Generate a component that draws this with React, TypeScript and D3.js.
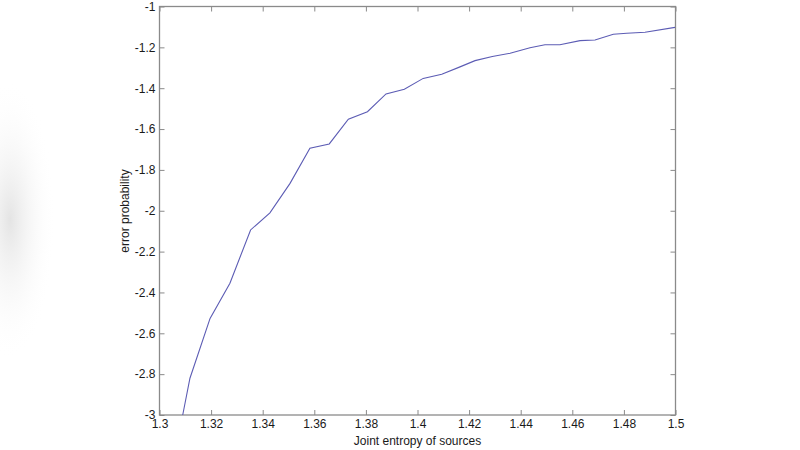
import * as d3 from "d3";
import { useEffect, useRef } from "react";

// values
const entropy = [
  1.309, 1.3118, 1.3196, 1.3273, 1.3353, 1.3428, 1.3506, 1.3583, 1.3658, 1.3732,
  1.3806, 1.3878, 1.3949, 1.4022, 1.4094, 1.416, 1.4223, 1.429, 1.4359, 1.4436,
  1.4494, 1.4552, 1.463, 1.4688, 1.4759, 1.4811, 1.4882, 1.4998,
];
const errorProb = [
  -3.0, -2.82, -2.527, -2.355, -2.094, -2.01, -1.866, -1.694, -1.673, -1.552,
  -1.515, -1.428, -1.405, -1.352, -1.332, -1.298, -1.265, -1.245, -1.229, -1.202,
  -1.187, -1.187, -1.167, -1.164, -1.136, -1.131, -1.126, -1.102,
];
const xTicks = [1.3, 1.32, 1.34, 1.36, 1.38, 1.4, 1.42, 1.44, 1.46, 1.48, 1.5];
const yTicks = [-3, -2.8, -2.6, -2.4, -2.2, -2, -1.8, -1.6, -1.4, -1.2, -1];
const xLabel = "Joint entropy of sources";
const yLabel = "error probability";

const width = 800;
const height = 450;
const left = 159.5;
const right = 675.5;
const top = 6.5;
const bottom = 415;

const App = () => {
  const svgRef = useRef<SVGSVGElement | null>(null);

  useEffect(() => {
    const svg = d3.select(svgRef.current);
    svg.selectAll("*").remove();

    const xScale = d3.scaleLinear().domain([1.3, 1.5]).range([left, right]);
    const yScale = d3.scaleLinear().domain([-3, -1]).range([bottom, top]);
    const fmt = (d: d3.NumberValue) => String(+(+d).toFixed(2));

    // faint shading at the left edge of the picture
    const defs = svg.append("defs");
    const grad = defs.append("radialGradient").attr("id", "shade");
    grad.append("stop").attr("offset", "0%").attr("stop-color", "#e4e4e4");
    grad.append("stop").attr("offset", "100%").attr("stop-color", "#ffffff").attr("stop-opacity", 0);
    svg.append("ellipse")
      .attr("cx", 10).attr("cy", 220).attr("rx", 45).attr("ry", 140)
      .attr("fill", "url(#shade)");

    svg.append("rect")
      .attr("x", left).attr("y", top)
      .attr("width", right - left).attr("height", bottom - top)
      .attr("fill", "#fff");

    const styleAxis = (g: d3.Selection<SVGGElement, unknown, null, undefined>) => {
      g.select(".domain").remove();
      g.selectAll(".tick line").attr("stroke", "#8a8a8a");
      g.selectAll("text")
        .attr("fill", "#1a1a1a")
        .attr("font-family", "Liberation Sans, Arial, sans-serif")
        .attr("font-size", 12);
    };

    svg.append("g")
      .attr("transform", `translate(0,${bottom})`)
      .call(d3.axisBottom(xScale).tickValues(xTicks).tickFormat(fmt).tickSize(-5).tickPadding(4))
      .call(styleAxis);
    svg.append("g")
      .attr("transform", `translate(0,${top})`)
      .call(d3.axisTop(xScale).tickValues(xTicks).tickFormat(() => "").tickSize(-5))
      .call(styleAxis);
    svg.append("g")
      .attr("transform", `translate(${left},0)`)
      .call(d3.axisLeft(yScale).tickValues(yTicks).tickFormat(fmt).tickSize(-5).tickPadding(4))
      .call(styleAxis);
    svg.append("g")
      .attr("transform", `translate(${right},0)`)
      .call(d3.axisRight(yScale).tickValues(yTicks).tickFormat(() => "").tickSize(-5))
      .call(styleAxis);

    svg.append("rect")
      .attr("x", left).attr("y", top)
      .attr("width", right - left).attr("height", bottom - top)
      .attr("fill", "none").attr("stroke", "#8a8a8a").attr("stroke-width", 1.3);

    const line = d3
      .line<number>()
      .x((_, i) => xScale(entropy[i]))
      .y((d) => yScale(d));

    svg.append("path")
      .datum(errorProb)
      .attr("d", line)
      .attr("fill", "none")
      .attr("stroke", "#5c5cb4")
      .attr("stroke-width", 1.1);

    svg.append("text")
      .attr("x", (left + right) / 2).attr("y", 445)
      .attr("text-anchor", "middle")
      .attr("font-family", "Liberation Sans, Arial, sans-serif")
      .attr("font-size", 12).attr("fill", "#1a1a1a")
      .text(xLabel);
    svg.append("text")
      .attr("transform", `translate(129,211) rotate(-90)`)
      .attr("text-anchor", "middle")
      .attr("font-family", "Liberation Sans, Arial, sans-serif")
      .attr("font-size", 12).attr("fill", "#1a1a1a")
      .text(yLabel);
  }, []);

  return (
    <div style={{ position: "absolute", left: 0, top: 0 }}>
      <svg ref={svgRef} width={width} height={height} style={{ display: "block", background: "#fff" }} />
    </div>
  );
};

export default App;
